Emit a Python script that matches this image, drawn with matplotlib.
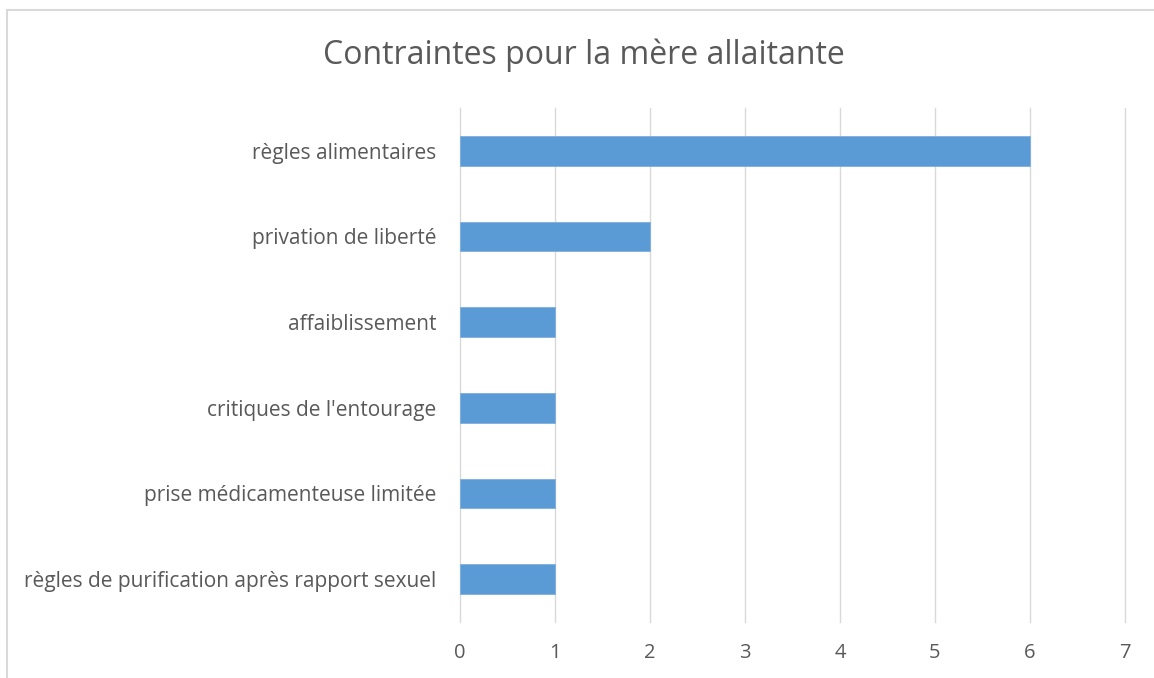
import numpy as np
import matplotlib.pyplot as plt
from matplotlib.patches import Rectangle

categories = ["règles alimentaires", "privation de liberté", "affaiblissement",
              "critiques de l'entourage", "prise médicamenteuse limitée",
              "règles de purification après rapport sexuel"]
values = [6, 2, 1, 1, 1, 1]
xticks = [0, 1, 2, 3, 4, 5, 6, 7]

plt.rcParams['font.family'] = ['Open Sans', 'DejaVu Sans']

fig = plt.figure(figsize=(11.54, 6.78), dpi=100)
# chart frame (image is cropped on right and bottom)
fig.patches.append(Rectangle((7/1154, -0.1), 1.2, 1 - 10/678 + 0.1, transform=fig.transFigure,
                             fill=False, edgecolor='#d9d9d9', linewidth=1.5))

ax = fig.add_axes([460/1154, 1 - 622/678, (1125 - 460)/1154, (622 - 108)/678])
y = np.arange(len(categories))
ax.barh(y, values, height=0.35, color='#5b9bd5', edgecolor='#7eaee0', linewidth=0.6, zorder=3)
ax.set_ylim(len(categories) - 0.5, -0.5)
ax.set_xlim(0, 7)
ax.set_xticks(xticks)
ax.set_yticks(y)
ax.set_yticklabels(categories, fontsize=15, color='#595959')
ax.tick_params(axis='x', labelsize=14.5, labelcolor='#595959', length=0, pad=15)
ax.tick_params(axis='y', length=0, pad=17)
ax.grid(axis='x', color='#d9d9d9', linewidth=1.0, zorder=0)
for gl in ax.get_xgridlines():
    gl.set_clip_on(False)
for s in ax.spines.values():
    s.set_visible(False)

fig.text(584/1154, 1 - 55/678, "Contraintes pour la mère allaitante", ha='center', va='center',
         fontsize=23, color='#595959')

fig.savefig('out.png', dpi=100)
